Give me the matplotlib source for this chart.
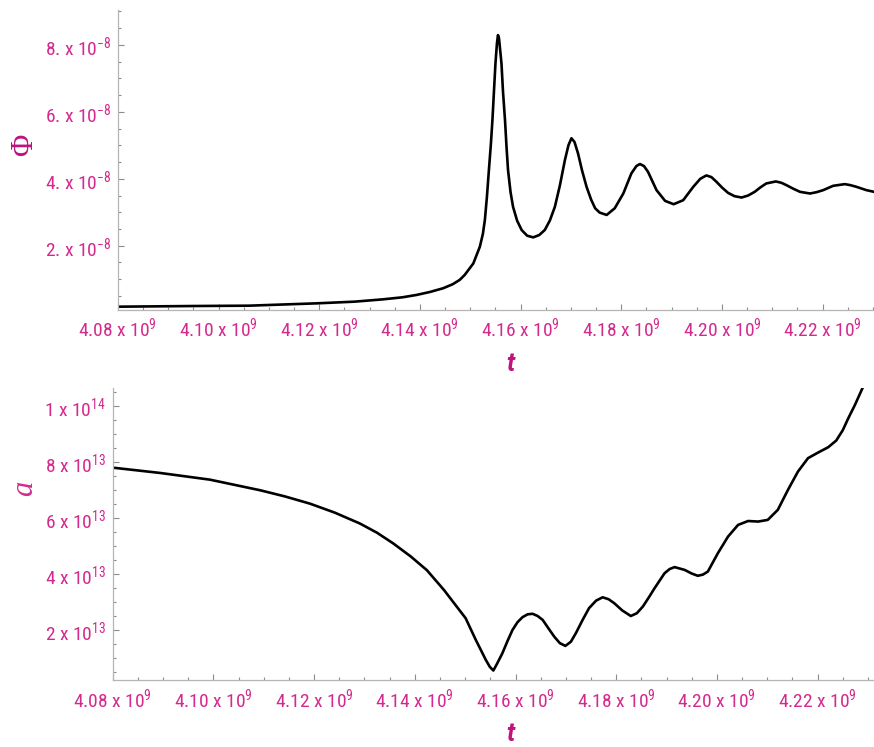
import matplotlib
matplotlib.use('Agg')
import matplotlib.pyplot as plt
from matplotlib import font_manager
from matplotlib.ticker import FixedLocator, FixedFormatter, NullFormatter
import numpy as np

# ── Data ──────────────────────────────────────────────────────────────────────
# t in units of 1e9, Phi in units of 1e-8
t_phi = [4.0800, 4.0950, 4.1060, 4.1195, 4.1270, 4.1327, 4.1365, 4.1393, 4.1420,
         4.1446, 4.1465, 4.1479, 4.1489, 4.1506, 4.1519, 4.1525, 4.1529, 4.1533,
         4.1537, 4.1541, 4.1544, 4.1547, 4.1550, 4.1553, 4.1555, 4.1557, 4.1559,
         4.1562, 4.1565, 4.1569, 4.1572, 4.1575, 4.1580, 4.1585, 4.1593, 4.1602,
         4.1613, 4.1625, 4.1637, 4.1648, 4.1658, 4.1668, 4.1678, 4.1688, 4.1695,
         4.1701, 4.1707, 4.1714, 4.1722, 4.1731, 4.1740, 4.1748, 4.1757, 4.1771,
         4.1787, 4.1804, 4.1820, 4.1830, 4.1837, 4.1845, 4.1853, 4.1870, 4.1887,
         4.1904, 4.1923, 4.1943, 4.1957, 4.1969, 4.1979, 4.1989, 4.2000, 4.2012,
         4.2025, 4.2039, 4.2052, 4.2065, 4.2077, 4.2088, 4.2107, 4.2118, 4.2128,
         4.2142, 4.2155, 4.2175, 4.2188, 4.2201, 4.2221, 4.2244, 4.2255, 4.2267,
         4.2287, 4.2302]
phi = [0.18, 0.20, 0.21, 0.28, 0.33, 0.40, 0.46, 0.53, 0.62,
       0.73, 0.85, 0.98, 1.13, 1.47, 1.97, 2.35, 2.77, 3.45,
       4.26, 5.05, 5.75, 6.60, 7.44, 8.05, 8.29, 8.20, 7.90,
       7.44, 6.60, 5.75, 4.95, 4.26, 3.60, 3.16, 2.75, 2.47,
       2.30, 2.25, 2.32, 2.47, 2.75, 3.16, 3.80, 4.56, 5.00,
       5.21, 5.10, 4.76, 4.25, 3.76, 3.38, 3.12, 2.99, 2.92,
       3.12, 3.56, 4.16, 4.38, 4.44, 4.38, 4.21, 3.66, 3.34,
       3.24, 3.36, 3.76, 4.00, 4.10, 4.05, 3.91, 3.74, 3.58,
       3.48, 3.44, 3.50, 3.61, 3.75, 3.86, 3.92, 3.88, 3.81,
       3.70, 3.61, 3.56, 3.60, 3.66, 3.79, 3.84, 3.81, 3.76,
       3.66, 3.61]

# t in units of 1e9, a in units of 1e13
t_a = [4.0800, 4.0894, 4.0993, 4.1093, 4.1142, 4.1192, 4.1241, 4.1291, 4.1325,
       4.1357, 4.1392, 4.1424, 4.1458, 4.1478, 4.1501, 4.1521, 4.1541, 4.1549,
       4.1556, 4.1563, 4.1574, 4.1584, 4.1594, 4.1604, 4.1614, 4.1624, 4.1634,
       4.1644, 4.1654, 4.1665, 4.1677, 4.1688, 4.1699, 4.1710, 4.1720, 4.1733,
       4.1746, 4.1760, 4.1773, 4.1785, 4.1796, 4.1812, 4.1829, 4.1841, 4.1853,
       4.1866, 4.1876, 4.1896, 4.1906, 4.1916, 4.1936, 4.1950, 4.1962, 4.1972,
       4.1982, 4.2002, 4.2022, 4.2042, 4.2062, 4.2082, 4.2101, 4.2121, 4.2141,
       4.2161, 4.2181, 4.2201, 4.2221, 4.2237, 4.2250, 4.2261, 4.2274, 4.2290]
a_vals = [7.81, 7.62, 7.38, 7.00, 6.78, 6.52, 6.20, 5.81, 5.48,
          5.10, 4.63, 4.14, 3.43, 2.96, 2.42, 1.65, 0.93, 0.68,
          0.55, 0.78, 1.17, 1.60, 2.00, 2.28, 2.46, 2.56, 2.58,
          2.50, 2.36, 2.07, 1.76, 1.53, 1.43, 1.58, 1.89, 2.35,
          2.78, 3.05, 3.17, 3.10, 2.96, 2.70, 2.50, 2.60, 2.84,
          3.20, 3.49, 4.03, 4.18, 4.25, 4.15, 4.02, 3.94, 3.98,
          4.09, 4.75, 5.34, 5.76, 5.90, 5.88, 5.94, 6.30, 7.01,
          7.67, 8.15, 8.35, 8.54, 8.78, 9.15, 9.58, 10.05, 10.69]

x_ticks = [4.08, 4.10, 4.12, 4.14, 4.16, 4.18, 4.20, 4.22]
x_labels = ['4.08 x 10$^{9}$', '4.10 x 10$^{9}$', '4.12 x 10$^{9}$', '4.14 x 10$^{9}$',
            '4.16 x 10$^{9}$', '4.18 x 10$^{9}$', '4.20 x 10$^{9}$', '4.22 x 10$^{9}$']
phi_ticks = [2, 4, 6, 8]
phi_labels = ['2. x 10$^{-8}$', '4. x 10$^{-8}$', '6. x 10$^{-8}$', '8. x 10$^{-8}$']
a_ticks = [2, 4, 6, 8, 10]
a_labels = ['2 x 10$^{13}$', '4 x 10$^{13}$', '6 x 10$^{13}$', '8 x 10$^{13}$', '1 x 10$^{14}$']

# ── Style ─────────────────────────────────────────────────────────────────────
W, H = 874, 747
PINK = '#d42a8e'
PINK_DARK = '#c0127c'
AXIS_GREY = '#b5b5b5'

_installed = {f.name for f in font_manager.fontManager.ttflist}
TICK_FONT = next((f for f in ['Liberation Sans Narrow', 'Roboto Condensed', 'Roboto', 'DejaVu Sans']
                  if f in _installed), 'DejaVu Sans')
plt.rcParams['font.family'] = [TICK_FONT, 'DejaVu Sans']
plt.rcParams['mathtext.fontset'] = 'custom'
plt.rcParams['mathtext.rm'] = TICK_FONT
plt.rcParams['mathtext.default'] = 'regular'


def px_box(x0, y0, x1, y1):
    # pixel box (top-left origin) -> figure fraction rect
    return [x0 / W, 1 - y1 / H, (x1 - x0) / W, (y1 - y0) / H]


def style_axes(ax, yticks, ylabels, yminor):
    for s in ('top', 'right'):
        ax.spines[s].set_visible(False)
    for s in ('left', 'bottom'):
        ax.spines[s].set_color(AXIS_GREY)
        ax.spines[s].set_linewidth(0.9)
    ax.xaxis.set_major_locator(FixedLocator(x_ticks))
    ax.xaxis.set_major_formatter(FixedFormatter(x_labels))
    ax.xaxis.set_minor_locator(FixedLocator(np.arange(4.08, 4.235, 0.005)))
    ax.xaxis.set_minor_formatter(NullFormatter())
    ax.yaxis.set_major_locator(FixedLocator(yticks))
    ax.yaxis.set_major_formatter(FixedFormatter(ylabels))
    ax.yaxis.set_minor_locator(FixedLocator(yminor))
    ax.yaxis.set_minor_formatter(NullFormatter())
    ax.tick_params(which='both', direction='in', color='#8c8c8c', width=0.8,
                   labelcolor=PINK, labelsize=14)
    ax.tick_params(which='major', length=4)
    ax.tick_params(which='minor', length=2.2)
    ax.tick_params(axis='x', pad=5)
    ax.tick_params(axis='y', pad=5)


fig = plt.figure(figsize=(W / 100, H / 100), dpi=100)

# ── Top: Phi(t) ───────────────────────────────────────────────────────────────
ax1 = fig.add_axes(px_box(117.9, 10, 874, 309.5))
ax1.plot(t_phi, phi, color='black', lw=1.9, solid_joinstyle='round')
ax1.set_xlim(4.08, 4.2302)
ax1.set_ylim(0.096, 9.04)
style_axes(ax1, phi_ticks, phi_labels, np.arange(0.5, 9.01, 0.5))

# ── Bottom: a(t) ──────────────────────────────────────────────────────────────
ax2 = fig.add_axes(px_box(112.7, 388, 874, 680))
ax2.plot(t_a, a_vals, color='black', lw=1.9, solid_joinstyle='round')
ax2.set_xlim(4.08, 4.2312)
ax2.set_ylim(0.21, 10.66)
style_axes(ax2, a_ticks, a_labels, np.arange(0.5, 10.61, 0.5))

# ── Axis labels ───────────────────────────────────────────────────────────────
fig.text(25 / W, 1 - 145 / H, 'Φ', color=PINK_DARK, fontsize=22, rotation=90,
         ha='center', va='center', family=['Liberation Serif', 'DejaVu Serif'])
fig.text(25 / W, 1 - 488 / H, 'a', color=PINK, fontsize=22, rotation=90, style='italic',
         ha='center', va='center', family=['Liberation Serif', 'DejaVu Serif'])
for ty in (364, 734):
    fig.text(510 / W, 1 - ty / H, 't', color=PINK_DARK, fontsize=18, style='italic',
             weight='bold', ha='center', va='center', family=['Roboto', 'DejaVu Sans'])

fig.savefig('out.png', dpi=100)
plt.close(fig)
